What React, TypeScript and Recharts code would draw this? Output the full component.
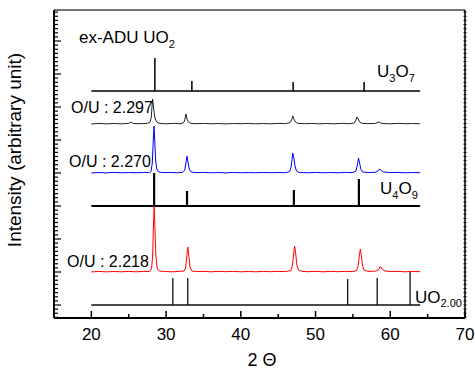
import { LineChart, Line, XAxis, YAxis } from 'recharts';

// 2-theta axis
const xTicks = [15, 20, 25, 30, 35, 40, 45, 50, 55, 60, 65, 70];
const xLabelled = [20, 30, 40, 50, 60, 70];

// y axis (arbitrary units), major ticks, 8 subdivisions between
const yMajor = [13, 46, 79, 112, 145, 178, 211, 244, 277];
const ySub = 8;

// measured patterns [2theta, intensity]
const ou2297: [number, number][] = [
  [20, 194], [21, 194.6], [22, 194.1], [23, 194.5], [24, 194.2], [25, 194.6], [25.3, 196], [25.6, 194.4],
  [26.5, 194.3], [27.5, 194.6], [27.85, 196], [28.0, 200], [28.1, 210], [28.2, 219], [28.3, 212], [28.45, 202],
  [28.6, 198], [28.8, 195.5], [29.2, 194.6], [30, 194.2], [31, 194.6], [32, 194.3], [32.35, 195.5], [32.5, 198],
  [32.65, 204], [32.8, 199], [33.0, 196], [33.3, 194.6], [34, 194.3], [35, 194.6], [36, 194.2], [37, 194.5],
  [38, 194.1], [39, 194.5], [40, 194.3], [41, 194.6], [42, 194.2], [43, 194.5], [44, 194.2], [45, 194.6],
  [46, 194.4], [46.6, 195.5], [46.8, 198], [46.95, 202], [47.1, 199], [47.3, 196], [47.6, 194.7], [48.5, 194.3],
  [49.5, 194.6], [50.5, 194.2], [51.5, 194.5], [52.5, 194.2], [53.5, 194.6], [54.5, 194.3], [55.2, 195], [55.4, 198],
  [55.55, 201], [55.7, 199], [55.9, 196], [56.2, 194.7], [57, 194.4], [58, 194.6], [58.35, 195.6], [58.5, 196],
  [58.7, 195], [59, 194.5], [60, 194.2], [61, 194.6], [62, 194.3], [63, 194.5], [64, 194.2],
];

const ou2270: [number, number][] = [
  [20, 145], [21, 145.5], [22, 145.1], [23, 145.6], [24, 145.2], [25, 145.5], [26, 145.2], [27, 145.6],
  [27.8, 145.4], [28.0, 147], [28.15, 155], [28.27, 175], [28.38, 192], [28.48, 178], [28.6, 158], [28.75, 149],
  [29, 146], [29.5, 145.4], [30.5, 145.6], [31.5, 145.2], [32.2, 145.6], [32.5, 148], [32.65, 155], [32.8, 162],
  [32.95, 155], [33.1, 149], [33.35, 146], [34, 145.4], [35, 145.6], [36, 145.2], [37, 145.5], [38, 145.1],
  [39, 145.6], [40, 145.2], [41, 145.5], [42, 145.2], [43, 145.6], [44, 145.3], [45, 145.5], [46, 145.3],
  [46.55, 146.5], [46.75, 152], [46.95, 165], [47.1, 160], [47.25, 152], [47.45, 147], [47.8, 145.6], [49, 145.2],
  [50, 145.6], [51, 145.2], [52, 145.5], [53, 145.2], [54, 145.6], [55, 145.4], [55.4, 147], [55.6, 153],
  [55.75, 160], [55.9, 155], [56.05, 149], [56.3, 146], [57, 145.5], [58, 145.7], [58.35, 147], [58.55, 149],
  [58.8, 147.5], [59.1, 146], [60, 145.4], [61, 145.6], [62, 145.2], [63, 145.5], [64, 145.3],
];

const ou2218: [number, number][] = [
  [20, 46], [21, 46.6], [22, 46.1], [23, 46.5], [24, 46.2], [25, 46.6], [26, 46.2], [27, 46.6],
  [27.8, 46.5], [28.05, 49], [28.2, 62], [28.3, 90], [28.4, 112], [28.5, 92], [28.62, 64], [28.8, 50],
  [29.1, 47], [29.8, 46.5], [30.8, 46.2], [31.8, 46.6], [32.4, 47], [32.6, 50], [32.75, 60], [32.9, 71],
  [33.05, 62], [33.2, 51], [33.45, 47], [34.2, 46.4], [35, 46.6], [36, 46.2], [37, 46.6], [38, 46.3],
  [39, 46.6], [40, 46.2], [41, 46.5], [42, 46.2], [43, 46.6], [44, 46.3], [45, 46.6], [46, 46.4],
  [46.7, 47.5], [46.9, 52], [47.05, 63], [47.2, 72], [47.35, 64], [47.5, 53], [47.7, 48], [48.2, 46.6],
  [49, 46.3], [50, 46.6], [51, 46.2], [52, 46.6], [53, 46.3], [54, 46.6], [55, 46.4], [55.5, 47.5],
  [55.7, 52], [55.85, 62], [56.0, 69], [56.15, 61], [56.3, 52], [56.5, 48], [57, 46.6], [58, 46.8],
  [58.4, 48], [58.6, 51], [58.75, 51], [58.95, 48.5], [59.3, 47], [60, 46.5], [61, 46.6], [62, 46.2],
  [63, 46.6], [64, 46.3],
];

// reference stick patterns
const u3o7Base = 227;
const u3o7Pos = [28.5, 33.45, 47.0, 56.5];
const u3o7Int = [260, 237, 236, 236];

const u4o9Base = 112;
const u4o9Pos = [28.4, 32.8, 47.1, 55.8];
const u4o9Int = [145, 127, 128, 139];

const uo2Base = 13;
const uo2Pos = [30.9, 32.9, 54.3, 58.25, 62.65];
const uo2Int = [40, 40, 39, 40, 46];

const toRows = (pts: [number, number][]) => pts.map(([x, y]) => ({ x, y }));

const stickRows = (base: number, pos: number[], int: number[]) => {
  const rows = [{ x: 20, y: base }];
  pos.forEach((p, i) => {
    rows.push({ x: p, y: base }, { x: p, y: int[i] }, { x: p, y: base });
  });
  rows.push({ x: 64, y: base });
  return rows;
};

const yTicks: number[] = [];
yMajor.forEach((m, i) => {
  const step = (i < yMajor.length - 1 ? yMajor[i + 1] - m : 33) / ySub;
  for (let k = 0; k < ySub; k++) yTicks.push(+(m + k * step).toFixed(3));
});
for (let k = 1; k < ySub; k++) yTicks.unshift(+(yMajor[0] - k * 33 / ySub).toFixed(3));
const yTickList = yTicks.filter((t) => t > 0 && t < 308).sort((a, b) => a - b);

const FONT = '"Liberation Sans", Arial, sans-serif';

const BottomTick = ({ x, y, payload }: any) => {
  const major = payload.value % 10 === 0;
  return (
    <g>
      <line x1={x} x2={x} y1={y} y2={y - (major ? 7 : 4)} stroke="#000" strokeWidth={1.5} />
      {major && xLabelled.includes(payload.value) && (
        <text x={x} y={y + 22} textAnchor="middle" fontSize={17} fontFamily={FONT} fill="#000">
          {payload.value}
        </text>
      )}
    </g>
  );
};

const TopTick = ({ x, y, payload }: any) => {
  const major = payload.value % 10 === 0;
  return <line x1={x} x2={x} y1={y} y2={y + (major ? 6 : 4)} stroke="#000" strokeWidth={1.2} />;
};

const LeftTick = ({ x, y, payload }: any) => {
  const major = yMajor.includes(payload.value);
  return <line x1={x} x2={x + (major ? 7 : 4)} y1={y} y2={y} stroke="#000" strokeWidth={1.2} />;
};

const RightTick = ({ x, y }: any) => (
  <line x1={x - 1.5} x2={x + 1.5} y1={y} y2={y} stroke="#000" strokeWidth={1} />
);

export default function App() {
  const label = { fontFamily: FONT, fill: '#000' };
  return (
    <div style={{ position: 'fixed', left: 0, top: 0, width: 475, height: 369, background: '#fff' }}>
      <LineChart width={475} height={369} margin={{ top: 0, right: 0, bottom: 0, left: 0 }}>
        <XAxis
          dataKey="x"
          type="number"
          domain={[15, 70]}
          ticks={xTicks}
          interval={0}
          height={51}
          tickSize={0}
          tickMargin={0}
          tickLine={false}
          tick={<BottomTick />}
          axisLine={{ stroke: '#000', strokeWidth: 2 }}
          allowDataOverflow
        />
        <XAxis
          xAxisId="top"
          orientation="top"
          type="number"
          domain={[15, 70]}
          ticks={xTicks}
          interval={0}
          height={10}
          tickSize={0}
          tickMargin={0}
          tickLine={false}
          tick={<TopTick />}
          axisLine={{ stroke: '#444', strokeWidth: 1.5 }}
          allowDataOverflow
        />
        <YAxis
          type="number"
          domain={[0, 308]}
          ticks={yTickList}
          interval={0}
          width={54}
          tickSize={0}
          tickMargin={0}
          tickLine={false}
          tick={<LeftTick />}
          axisLine={{ stroke: '#000', strokeWidth: 2 }}
          allowDataOverflow
        />
        <YAxis
          yAxisId="right"
          orientation="right"
          type="number"
          domain={[0, 308]}
          ticks={yTickList}
          interval={0}
          width={10}
          tickSize={0}
          tickMargin={0}
          tickLine={false}
          tick={<RightTick />}
          axisLine={{ stroke: '#000', strokeWidth: 1.5 }}
          allowDataOverflow
        />
        <Line data={stickRows(u3o7Base, u3o7Pos, u3o7Int)} dataKey="y" type="linear" stroke="#000" strokeWidth={1.5} dot={false} isAnimationActive={false} />
        <Line data={toRows(ou2297)} dataKey="y" type="linear" stroke="#222" strokeWidth={1} dot={false} isAnimationActive={false} />
        <Line data={toRows(ou2270)} dataKey="y" type="linear" stroke="#0000ff" strokeWidth={1} dot={false} isAnimationActive={false} />
        <Line data={stickRows(u4o9Base, u4o9Pos, u4o9Int)} dataKey="y" type="linear" stroke="#000" strokeWidth={2.2} dot={false} isAnimationActive={false} />
        <Line data={toRows(ou2218)} dataKey="y" type="linear" stroke="#ff0000" strokeWidth={1} dot={false} isAnimationActive={false} />
        <Line data={stickRows(uo2Base, uo2Pos, uo2Int)} dataKey="y" type="linear" stroke="#111" strokeWidth={1.3} dot={false} isAnimationActive={false} />
      </LineChart>
      <svg width={475} height={369} style={{ position: 'absolute', left: 0, top: 0, pointerEvents: 'none' }}>
        <text x={79} y={43} fontSize={17} {...label}>
          ex-ADU UO<tspan fontSize={11} dy={5}>2</tspan>
        </text>
        <text x={377} y={77} fontSize={17} {...label}>
          U<tspan fontSize={11} dy={5}>3</tspan>
          <tspan dy={-5}>O</tspan>
          <tspan fontSize={11} dy={5}>7</tspan>
        </text>
        <text x={71} y={113} fontSize={16} {...label}>O/U : 2.297</text>
        <text x={69} y={167} fontSize={16} {...label}>O/U : 2.270</text>
        <text x={380} y={194} fontSize={17} {...label}>
          U<tspan fontSize={11} dy={5}>4</tspan>
          <tspan dy={-5}>O</tspan>
          <tspan fontSize={11} dy={5}>9</tspan>
        </text>
        <text x={67} y={267} fontSize={16} {...label}>O/U : 2.218</text>
        <text x={415} y={303} fontSize={17} {...label}>
          UO<tspan fontSize={11} dy={4}>2.00</tspan>
        </text>
        <text x={262} y={366} fontSize={18} textAnchor="middle" {...label}>2 Θ</text>
        <text x={21} y={150} fontSize={19} textAnchor="middle" transform="rotate(-90 21 150)" {...label}>
          Intensity (arbitrary unit)
        </text>
      </svg>
    </div>
  );
}
